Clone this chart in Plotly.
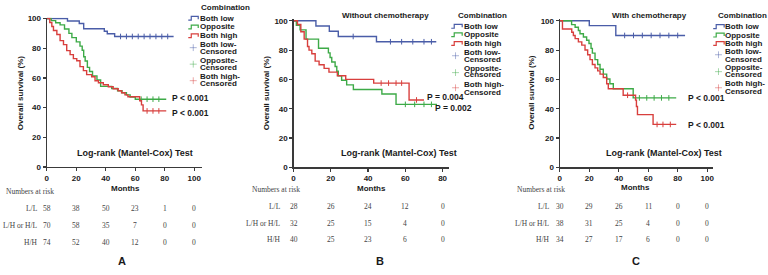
import plotly.graph_objects as go

W, H = 768, 275

# ---------------- data ----------------
x_ticks_ac = [0, 20, 40, 60, 80, 100]
x_ticks_b = [0, 20, 40, 60, 80]
y_ticks = [0, 20, 40, 60, 80, 100]

series_names = ["Both low", "Opposite", "Both high"]
legend_title = "Combination"
panel_titles = ["", "Without chemotherapy", "With chemotherapy"]
panel_letters = ["A", "B", "C"]
y_title = "Overall survival (%)"
x_title = "Months"
test_label = "Log-rank (Mantel-Cox) Test"
p_texts_a = ["P < 0.001", "P < 0.001"]
p_texts_b = ["P = 0.004", "P = 0.002"]
p_texts_c = ["P < 0.001", "P < 0.001"]

# Panel A (all patients)
a_low_t = [0, 14, 22, 25, 39, 41, 46, 86]
a_low_s = [100, 98.3, 96.6, 93.1, 91.4, 89.7, 87.9, 87.9]
a_opp_t = [0, 3, 6, 9, 12, 15, 17, 20, 22.5, 24, 25, 26, 27.5, 29, 31, 34, 36.5, 44, 48, 51, 54, 56.5, 60, 81]
a_opp_s = [100, 98.6, 97.1, 95.7, 92.9, 90, 87.1, 84.3, 81.4, 78.6, 74.3, 71.4, 67.1, 64.3, 61.4, 58.6, 54.3, 52.9, 51.4, 50, 48.6, 47.1, 45.7, 45.7]
a_high_t = [0, 2, 3.4, 4.5, 6.8, 9, 11.3, 13.5, 15.8, 18, 20.3, 22.5, 24.8, 27, 30.4, 32.7, 35, 38.3, 41.7, 45, 48.4, 50.7, 53, 55, 63, 64.2, 65.3, 81]
a_high_s = [100, 97.3, 94.6, 91.9, 89.2, 85.1, 82.4, 78.4, 75.7, 73, 71.6, 67.6, 64.9, 62.2, 60.8, 58.1, 56.8, 55.4, 54.1, 52.7, 51.4, 50, 48.6, 47.3, 44.6, 41.9, 37.8, 37.8]
a_low_cens = [50, 54, 58, 62, 66, 70, 74, 78, 82]
a_opp_cens = [64, 68, 72, 76]
a_high_cens = [68, 72, 76]

# Panel B (without chemotherapy)
b_low_t = [0, 12, 19.2, 24, 44.5, 76.6]
b_low_s = [100, 96.4, 92.9, 89.3, 85.7, 85.7]
b_opp_t = [0, 1.5, 3.5, 6.7, 13.4, 18.7, 19.6, 20.5, 22.3, 23.2, 24, 25.8, 28.5, 32.1, 47.4, 55, 77]
b_opp_s = [100, 96.9, 93.8, 87.5, 81.3, 78.1, 75, 71.9, 68.8, 65.6, 62.5, 59.4, 56.3, 53.1, 50, 43, 43]
b_high_t = [0, 2.1, 3.9, 5.7, 7.5, 8.3, 9.8, 11.6, 13.7, 16.4, 19, 23.5, 28, 43, 62, 70]
b_high_s = [100, 97.5, 92.5, 87.5, 82.5, 80, 77.5, 72.5, 70, 67.5, 65, 62.5, 60, 57.5, 46, 46]
b_low_cens = [32, 52, 58, 64, 70, 74]
b_opp_cens = [60, 65, 70, 74]
b_high_cens = [47, 51, 55, 58, 66]

# Panel C (with chemotherapy)
c_low_t = [0, 20, 38, 85]
c_low_s = [100, 96.7, 90, 90]
c_opp_t = [0, 8, 10.4, 12.6, 13.7, 16, 18.2, 19.8, 21.2, 22.1, 23.9, 25.7, 27.3, 29.5, 31.8, 34, 36.3, 49.8, 79]
c_opp_s = [100, 97.4, 95.6, 93.4, 91.1, 88.9, 86.7, 84.5, 81.2, 77.9, 73.5, 70.2, 66.9, 63.6, 60.3, 57, 53.6, 47.4, 47.4]
c_high_t = [0, 1.8, 8.1, 9.2, 10.4, 12.6, 14.9, 17.1, 18.9, 20.5, 22.1, 23.9, 25.7, 27.3, 29.5, 31.8, 32.9, 43, 51.4, 52, 52.7, 63.3, 79]
c_high_s = [100, 94.4, 92.2, 90, 87.8, 85.6, 83.4, 80.1, 76.8, 73.5, 70.2, 67.9, 65.8, 63.6, 61.3, 57, 53.6, 49.2, 45.9, 41.5, 36, 29.3, 29.3]
c_low_cens = [44, 50, 56, 62, 68, 74, 80]
c_opp_cens = [54, 59, 64, 69, 74]
c_high_cens = [46, 66, 70, 75]

risk_header = "Numbers at risk"
risk_labels = ["L/L", "L/H or H/L", "H/H"]
a_risk_low = [58, 38, 50, 23, 1, 0]
a_risk_opp = [70, 58, 35, 7, 0, 0]
a_risk_high = [74, 52, 40, 12, 0, 0]
b_risk_low = [28, 26, 24, 12, 0]
b_risk_opp = [32, 25, 15, 4, 0]
b_risk_high = [40, 25, 23, 6, 0]
c_risk_low = [30, 29, 26, 11, 0, 0]
c_risk_opp = [38, 31, 25, 4, 0, 0]
c_risk_high = [34, 27, 17, 6, 0, 0]

# ---------------- style / layout ----------------
colors = ["#4a5da8", "#3daa47", "#d83f3d"]
AX = "#3a3a3a"
SANS = "Liberation Sans, Arial, sans-serif"
SERIF = "Liberation Serif, Times New Roman, serif"
TXT = "#1a1a1a"


def px(x):
    return x / W


def py(y):
    return 1 - y / H


def step_value(ts, ss, t):
    v = ss[0]
    for ti, si in zip(ts, ss):
        if ti <= t:
            v = si
    return v


panels = [
    dict(
        data=[(a_low_t, a_low_s, a_low_cens), (a_opp_t, a_opp_s, a_opp_cens), (a_high_t, a_high_s, a_high_cens)],
        risk=[a_risk_low, a_risk_opp, a_risk_high], ticks=x_ticks_ac, p=p_texts_a,
        xd=(45, 201), xr=105.4, yd=(169, 15.2), yr=100.5,
        ytitle=(18, 92), title=None, logrank=(134, 155), months=(124, 191),
        leg_title=(199, 5), leg_x=198, leg_ys=[15.7, 24.7, 33.7, (42.7, 50), (59.3, 66), (75.3, 82.7)],
        icon=(187, 197), plus_x=192, plus_ys=[46, 63, 80],
        p_pos=[(170, 97.7), (170, 113.3)],
        nar=(3, 194), row_x=37, row_ys=[211.7, 229, 246.7], letter=(120, 266),
    ),
    dict(
        data=[(b_low_t, b_low_s, b_low_cens), (b_opp_t, b_opp_s, b_opp_cens), (b_high_t, b_high_s, b_high_cens)],
        risk=[b_risk_low, b_risk_opp, b_risk_high], ticks=x_ticks_b, p=p_texts_b,
        xd=(292.7, 448.7), xr=83.4, yd=(169.3, 16.8), yr=101,
        ytitle=(265, 92), title=(385, 13.3), logrank=(399, 155), months=(371, 191),
        leg_title=(456.7, 13.3), leg_x=463, leg_ys=[24, 32.7, 41.7, (50.7, 58.3), (67.3, 74), (84.3, 91.7)],
        icon=(451, 462), plus_x=455.3, plus_ys=[54.3, 71.7, 87.3],
        p_pos=[(426, 96.7), (433.3, 107.7)],
        nar=(250, 191.7), row_x=281, row_ys=[209.3, 226.7, 244], letter=(379.3, 266),
    ),
    dict(
        data=[(c_low_t, c_low_s, c_low_cens), (c_opp_t, c_opp_s, c_opp_cens), (c_high_t, c_high_s, c_high_cens)],
        risk=[c_risk_low, c_risk_opp, c_risk_high], ticks=x_ticks_ac, p=p_texts_c,
        xd=(560, 713.7), xr=103.9, yd=(169.3, 16.8), yr=101,
        ytitle=(531.5, 92), title=(650, 13.3), logrank=(665, 155), months=(636, 190),
        leg_title=(718, 13.3), leg_x=725, leg_ys=[24.3, 33, 41.7, (50, 57.7), (66, 74), (83.3, 90.7)],
        icon=(714, 725), plus_x=719.3, plus_ys=[53.3, 70.7, 87.3],
        p_pos=[(688, 98.3), (688, 126)],
        nar=(516, 191.7), row_x=551.3, row_ys=[210, 226.7, 244], letter=(636, 266),
    ),
]

fig = go.Figure()
annotations = []
shapes = []


def ann(x, y, text, size=8, bold=True, xanchor="center", color=TXT, font=SANS, angle=0, xref="paper", yref="paper"):
    annotations.append(dict(
        x=x, y=y, xref=xref, yref=yref, text=text, showarrow=False,
        xanchor=xanchor, yanchor="middle", textangle=angle,
        font=dict(family=font, size=size, color=color, weight="bold" if bold else "normal"),
        borderpad=0,
    ))


for i, pn in enumerate(panels):
    sfx = "" if i == 0 else str(i + 1)
    xa, ya = "x" + sfx, "y" + sfx
    for k, (ts, ss, cens) in enumerate(pn["data"]):
        fig.add_trace(go.Scatter(
            x=ts, y=ss, mode="lines", line=dict(color=colors[k], width=1.4, shape="hv"),
            xaxis=xa, yaxis=ya, showlegend=False, name=series_names[k], cliponaxis=False,
        ))
        fig.add_trace(go.Scatter(
            x=cens, y=[step_value(ts, ss, c) for c in cens], mode="markers",
            marker=dict(symbol="line-ns", size=4, line=dict(color=colors[k], width=1)),
            xaxis=xa, yaxis=ya, showlegend=False, cliponaxis=False,
        ))
    axis_common = dict(
        showline=True, linecolor=AX, linewidth=1.2, ticks="outside", ticklen=3, tickwidth=1.2,
        tickcolor=AX, showgrid=False, zeroline=False,
        tickfont=dict(family=SANS, size=8, color=TXT, weight="bold"),
    )
    fig.update_layout(**{
        "xaxis" + sfx: dict(axis_common, domain=[px(pn["xd"][0]), px(pn["xd"][1])],
                            range=[0, pn["xr"]], tickvals=pn["ticks"], anchor=ya),
        "yaxis" + sfx: dict(axis_common, domain=[py(pn["yd"][0]), py(pn["yd"][1])],
                            range=[0, pn["yr"]], tickvals=y_ticks, anchor=xa),
    })

    # axis titles and panel texts
    ann(px(pn["ytitle"][0]), py(pn["ytitle"][1]), y_title, size=8, angle=-90)
    if pn["title"]:
        ann(px(pn["title"][0]), py(pn["title"][1]), panel_titles[i], size=8)
    ann(px(pn["logrank"][0]), py(pn["logrank"][1]), test_label, size=9)
    ann(px(pn["months"][0]), py(pn["months"][1]), x_title, size=8)

    # legend
    ann(px(pn["leg_title"][0]), py(pn["leg_title"][1]), legend_title, size=8, xanchor="left")
    lx = px(pn["leg_x"])
    for k in range(3):
        ann(lx, py(pn["leg_ys"][k]), series_names[k], size=8, xanchor="left")
        yc = pn["leg_ys"][k]
        x0, x1 = pn["icon"]
        path = f"M {px(x0)},{py(yc + 2)} L {px(x0 + 3)},{py(yc + 2)} L {px(x0 + 3)},{py(yc - 2)} L {px(x1)},{py(yc - 2)} L {px(x1)},{py(yc + 1)}"
        shapes.append(dict(type="path", path=path, xref="paper", yref="paper",
                           line=dict(color=colors[k], width=1.2)))
    for k in range(3):
        y1, y2 = pn["leg_ys"][3 + k]
        ann(lx, py(y1), series_names[k] + "-", size=8, xanchor="left")
        ann(lx, py(y2), "Censored", size=8, xanchor="left")
        cx, cy = pn["plus_x"], pn["plus_ys"][k]
        shapes.append(dict(type="line", xref="paper", yref="paper", x0=px(cx - 3.5), x1=px(cx + 3.5),
                           y0=py(cy), y1=py(cy), line=dict(color=colors[k], width=1), opacity=0.45))
        shapes.append(dict(type="line", xref="paper", yref="paper", x0=px(cx), x1=px(cx),
                           y0=py(cy - 3.5), y1=py(cy + 3.5), line=dict(color=colors[k], width=1), opacity=0.45))

    # p-values
    for (x, y), t in zip(pn["p_pos"], pn["p"]):
        ann(px(x), py(y), t, size=8.5, xanchor="left")

    # numbers at risk table
    ann(px(pn["nar"][0]), py(pn["nar"][1]), risk_header, size=7.5, bold=False, xanchor="left",
        color="#444", font=SERIF)
    for r in range(3):
        yr = py(pn["row_ys"][r])
        ann(px(pn["row_x"]), yr, risk_labels[r], size=7.5, bold=False, xanchor="right", color="#444", font=SERIF)
        for tv, val in zip(pn["ticks"], pn["risk"][r]):
            ann(tv, yr, str(val), size=7.5, bold=False, color="#444", font=SERIF, xref=xa, yref="paper")

    ann(px(pn["letter"][0]), py(pn["letter"][1]), panel_letters[i], size=11, bold=True)

fig.update_layout(
    width=W, height=H, margin=dict(l=0, r=0, t=0, b=0),
    paper_bgcolor="white", plot_bgcolor="white",
    annotations=annotations, shapes=shapes, showlegend=False,
)

fig.write_html(
    "out.html",
    config={"displayModeBar": False, "staticPlot": True},
    post_script="document.body.style.margin='0';document.body.style.overflow='hidden';",
)
